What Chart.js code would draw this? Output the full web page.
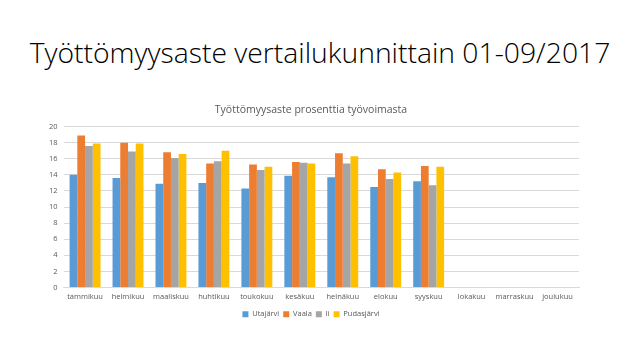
<!DOCTYPE html>
<html><head><meta charset="utf-8">
<script src="https://cdn.jsdelivr.net/npm/chart.js@4"></script>
<style>
html,body{margin:0;padding:0;background:#fff;width:640px;height:360px;overflow:hidden;}
#title{position:absolute;left:0;top:33px;width:640px;text-align:center;font-family:"Open Sans",Lato,sans-serif;font-weight:300;font-size:28.3px;color:#000;white-space:nowrap;}
#wrap{position:absolute;left:43px;top:102px;width:566px;height:226px;}
</style></head><body>
<div id="title">Työttömyysaste vertailukunnittain 01-09/2017</div>
<div id="wrap"><canvas id="c"></canvas></div>
<script>
const categories = ["tammikuu","helmikuu","maaliskuu","huhtikuu","toukokuu","kesäkuu","heinäkuu","elokuu","syyskuu","lokakuu","marraskuu","joulukuu"];
const seriesNames = ["Utajärvi","Vaala","Ii","Pudasjärvi"];
const utajarvi = [14.0,13.6,12.9,13.0,12.3,13.9,13.7,12.5,13.2,null,null,null];
const vaala = [18.9,18.0,16.8,15.4,15.3,15.6,16.7,14.7,15.1,null,null,null];
const ii = [17.6,16.9,16.1,15.7,14.6,15.5,15.4,13.5,12.7,null,null,null];
const pudasjarvi = [17.9,17.9,16.6,17.0,15.0,15.4,16.3,14.3,15.0,null,null,null];
const yTicks = [0,2,4,6,8,10,12,14,16,18,20];
const colors = ["#5B9BD5","#ED7D31","#A5A5A5","#FFC000"];
const allData = [utajarvi,vaala,ii,pudasjarvi];
const font = "'Open Sans', sans-serif";
new Chart(document.getElementById('c'),{
  type:'bar',
  data:{labels:categories,datasets:seriesNames.map((n,i)=>({label:n,data:allData[i],backgroundColor:colors[i],categoryPercentage:0.72,barPercentage:1.0}))},
  options:{
    responsive:true,maintainAspectRatio:false,animation:false,
    layout:{padding:{left:0,right:30,top:0,bottom:0}},
    plugins:{
      title:{display:true,text:"Työttömyysaste prosenttia työvoimasta",color:"#595959",font:{family:font,size:10.5,weight:'normal'},padding:{top:2,bottom:10}},
      legend:{position:'bottom',labels:{boxWidth:6,boxHeight:6,color:"#595959",font:{family:font,size:7.5},padding:4}},
      tooltip:{enabled:false}
    },
    scales:{
      x:{grid:{display:false,drawTicks:false},border:{color:"#d9d9d9"},ticks:{color:"#595959",font:{family:font,size:7.5},padding:5,maxRotation:0,autoSkip:false}},
      y:{min:0,max:20,afterBuildTicks:(s)=>{s.ticks=yTicks.map(v=>({value:v}));},grid:{color:"#d9d9d9",drawTicks:false},border:{display:false},ticks:{color:"#595959",font:{family:font,size:7.5},padding:6}}
    }
  }
});
</script>
</body></html>
